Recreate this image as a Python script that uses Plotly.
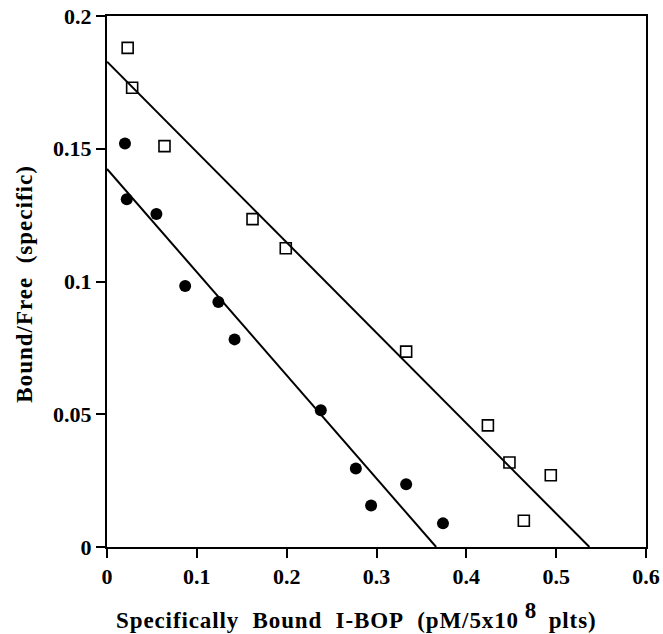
import plotly.graph_objects as go

# Open squares
sq_x = [0.023, 0.028, 0.064, 0.162, 0.199, 0.333, 0.424, 0.448, 0.494, 0.464]
sq_y = [0.188, 0.173, 0.151, 0.1235, 0.1125, 0.0736, 0.0458, 0.0318, 0.027, 0.0099]
# Filled circles
ci_x = [0.020, 0.022, 0.055, 0.087, 0.124, 0.142, 0.238, 0.277, 0.294, 0.333, 0.374]
ci_y = [0.152, 0.131, 0.1254, 0.0983, 0.0923, 0.0782, 0.0515, 0.0296, 0.0156, 0.0236, 0.0089]

# Fitted lines: (y-intercept, x-intercept)
sq_fit = [0.1828, 0.537]
ci_fit = [0.1424, 0.3664]

x_ticks = [0, 0.1, 0.2, 0.3, 0.4, 0.5, 0.6]
x_labels = ["0", "0.1", "0.2", "0.3", "0.4", "0.5", "0.6"]
y_ticks = [0, 0.05, 0.1, 0.15, 0.2]
y_labels = ["0", "0.05", "0.1", "0.15", "0.2"]

font = "Liberation Serif"
sp = "&nbsp;&nbsp;"
x_title = ("<span style='letter-spacing:0.9px'>Specifically" + sp + "Bound" + sp + "I-BOP"
           + sp + "(pM/5x10</span>"
           + "<sup><span style='font-size:23px'>&nbsp;8&nbsp;</span></sup>"
           + "<span style='letter-spacing:0.9px'>&nbsp;plts)</span>")
y_title = ("<span style='letter-spacing:1px'>Bound/Free" + sp + "(specific)</span>")

fig = go.Figure()
fig.add_trace(go.Scatter(x=[0, sq_fit[1]], y=[sq_fit[0], 0], mode="lines",
                         line=dict(color="black", width=2), showlegend=False))
fig.add_trace(go.Scatter(x=[0, ci_fit[1]], y=[ci_fit[0], 0], mode="lines",
                         line=dict(color="black", width=2), showlegend=False))
fig.add_trace(go.Scatter(x=sq_x, y=sq_y, mode="markers",
                         marker=dict(symbol="square-open", size=11, color="black",
                                     line=dict(width=1.6, color="black")),
                         showlegend=False))
fig.add_trace(go.Scatter(x=ci_x, y=ci_y, mode="markers",
                         marker=dict(symbol="circle", size=12, color="black"),
                         showlegend=False))

axis_common = dict(showgrid=False, zeroline=False, showline=True, linecolor="black",
                   linewidth=2, mirror=True, ticks="outside", ticklen=9, tickwidth=2,
                   tickcolor="black", automargin=False,
                   tickfont=dict(family=font, size=22, color="black", weight="bold"))

fig.update_xaxes(range=[0, 0.6], tickvals=x_ticks, ticktext=x_labels, **axis_common)
fig.update_yaxes(range=[0, 0.2], tickvals=y_ticks, ticktext=y_labels, **axis_common)

fig.add_annotation(text=x_title, xref="paper", yref="paper", x=0.462, y=-0.166,
                   xanchor="center", yanchor="bottom", showarrow=False,
                   font=dict(family=font, size=23, color="black", weight="bold"))
fig.add_annotation(text=y_title, xref="paper", yref="paper", x=-0.152, y=0.496,
                   xanchor="center", yanchor="middle", textangle=-90, showarrow=False,
                   font=dict(family=font, size=23, color="black", weight="bold"))

fig.update_layout(width=663, height=634, margin=dict(l=107, r=17, t=16, b=87),
                  plot_bgcolor="white", paper_bgcolor="white")
fig.write_html("out.html", config={"displayModeBar": False},
               post_script="document.body.style.margin='0';")
